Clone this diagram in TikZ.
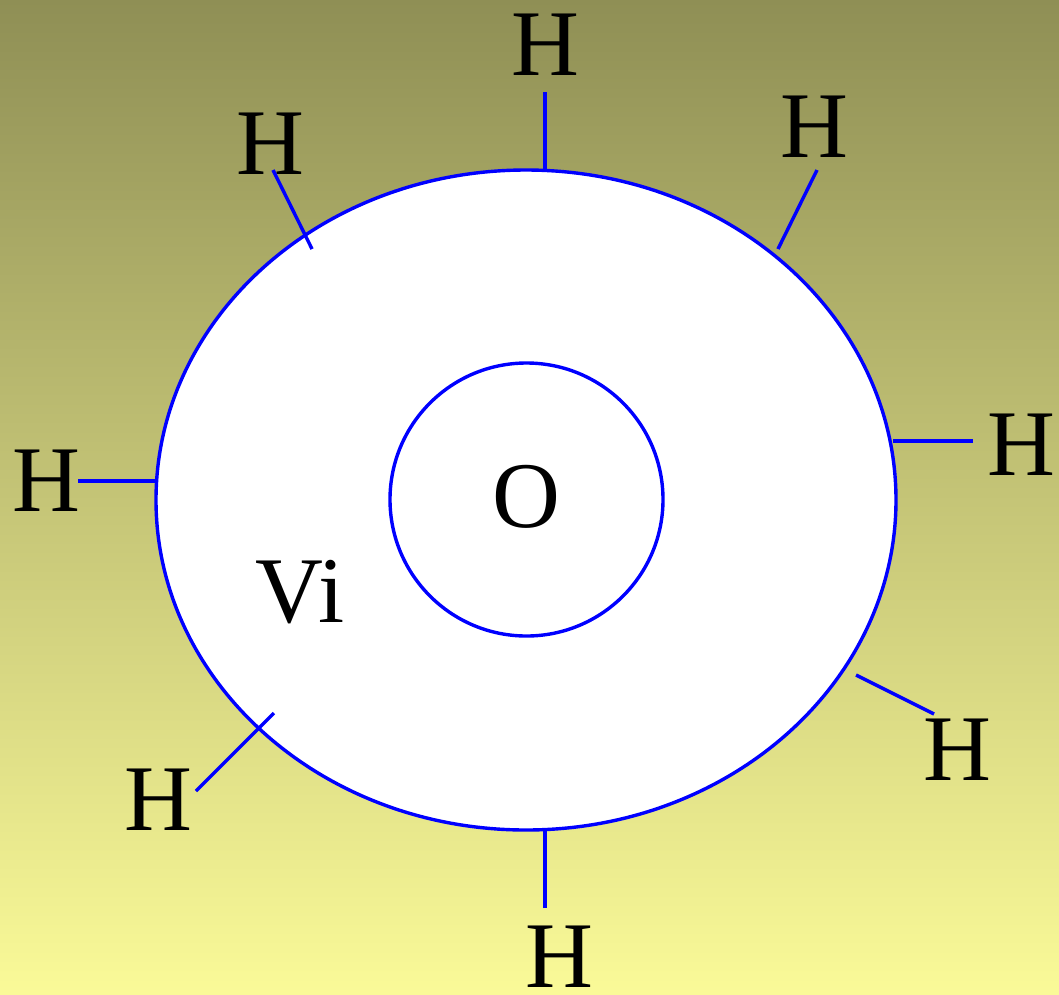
\documentclass[tikz,border=0pt]{standalone}
\usepackage{fontspec}
\setmainfont{LiberationSerif}[Extension=.ttf, UprightFont=*-Regular]
\definecolor{bgtop}{RGB}{143,143,85}
\definecolor{bgbot}{RGB}{250,250,152}
\begin{document}
\begin{tikzpicture}[x=1pt,y=-1pt,
  lbl/.style={inner sep=0pt, font=\fontsize{94}{94}\selectfont},
  bond/.style={blue, line width=3.4pt},
  ring/.style={blue, line width=3.4pt, fill=white}]
\shade[top color=bgtop, bottom color=bgbot] (0,0) rectangle (1059,994);
\useasboundingbox (0,0) rectangle (1059,994);
\draw[ring] (526,500) ellipse [x radius=370pt, y radius=330pt];
\draw[ring] (526.5,499.5) circle [radius=136.5pt];
% labels
\node[lbl] (Ht) at (545,45) {H};
\node[lbl] (Htl) at (270,144) {H};
\node[lbl] (Htr) at (814,127) {H};
\node[lbl] (Hr) at (1021,445) {H};
\node[lbl] (Hl) at (46,481) {H};
\node[lbl] (Hbr) at (957,750) {H};
\node[lbl] (Hbl) at (158,800) {H};
\node[lbl] (Hb) at (559,957) {H};
\node[lbl] (O) at (526,497) {O};
\node[lbl, anchor=base] (Vi) at (300,622) {Vi};
% bond endpoints
\coordinate (t1) at (545,92);  \coordinate (t2) at (545,170);
\coordinate (tl1) at (273,170); \coordinate (tl2) at (312,249);
\coordinate (tr1) at (817,170); \coordinate (tr2) at (778,249);
\coordinate (r1) at (973,441); \coordinate (r2) at (893,441);
\coordinate (l1) at (78,481); \coordinate (l2) at (156,481);
\coordinate (br1) at (934,714); \coordinate (br2) at (856,675);
\coordinate (bl1) at (196,791); \coordinate (bl2) at (274,713);
\coordinate (b1) at (545,908); \coordinate (b2) at (545,830);
\draw[bond] (t1) -- (t2);
\draw[bond] (tl1) -- (tl2);
\draw[bond] (tr1) -- (tr2);
\draw[bond] (r1) -- (r2);
\draw[bond] (l1) -- (l2);
\draw[bond] (br1) -- (br2);
\draw[bond] (bl1) -- (bl2);
\draw[bond] (b1) -- (b2);
\end{tikzpicture}
\end{document}
